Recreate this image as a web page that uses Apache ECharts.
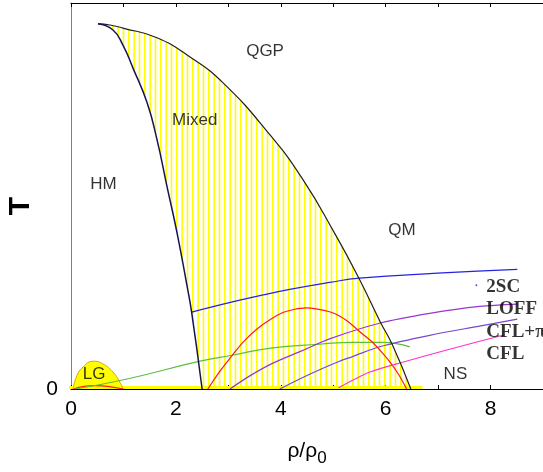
<!DOCTYPE html>
<html><head><meta charset="utf-8">
<script src="https://cdn.jsdelivr.net/npm/echarts@6/dist/echarts.min.js"></script>
<style>html,body{margin:0;padding:0;background:#fff}#c{width:543px;height:472px}</style>
</head><body><div id="c"></div>
<script>
// ---- data (x = rho/rho0, y = T in arbitrary units 0..100) ----
const xTickLabels = ['0', '2', '4', '6', '8'];
const yTickLabels = ['0'];
const qgpBoundary = [[0.514,94.6],[0.743,94.3],[0.99,93.5],[1.64,91.0],[2.27,86.0],[2.90,79.3],[3.79,65.9],[4.42,54.3],[5.05,39.8],[5.49,28.7],[5.90,17.3],[6.13,11.4],[6.48,0]];
const hmBoundary = [[0.514,94.6],[0.80,93.0],[0.99,89.1],[1.18,83.2],[1.45,74.2],[1.64,64.6],[1.83,52.5],[2.02,40.6],[2.21,26.9],[2.30,19.9],[2.50,0]];
const baseline = [[-0.17,0.4],[6.7,0.4]];
const lgBump = [[0.04,0],[0.11,3.4],[0.23,5.7],[0.42,7.2],[0.61,6.5],[0.80,4.4],[0.93,1.8],[0.99,0]];
const lgRed = [[0.05,0],[0.25,0.7],[0.45,0.9],[0.7,0.7],[1.0,0]];
const greenLine = [[0.08,0],[1.07,2.6],[2.46,7.2],[3.09,8.8],[3.81,10.6],[4.74,11.6],[5.37,12.1],[5.94,12.1],[6.46,10.9]];
const blueLine = [[2.30,19.9],[2.90,22.0],[3.54,24.0],[4.17,25.8],[4.93,27.6],[5.50,28.7],[6.99,30.0],[8.51,31.0]];
const redLine = [[2.61,0],[2.85,4.8],[3.09,9.0],[3.30,12.4],[3.54,15.5],[3.80,18.0],[4.04,19.8],[4.25,20.6],[4.48,21.0],[4.70,20.7],[4.93,20.0],[5.12,18.9],[5.30,17.3],[5.45,15.5],[5.60,13.8],[5.75,12.1],[5.92,9.6],[6.08,7.0],[6.25,3.7],[6.40,0]];
const loffLine = [[3.03,0],[3.41,3.4],[3.85,6.7],[4.42,10.0],[4.93,13.0],[5.90,17.1],[6.84,19.6],[7.79,21.4],[8.51,22.0]];
const cflPiLine = [[3.98,0],[4.36,2.6],[4.74,5.0],[5.12,7.2],[5.37,8.4],[5.90,11.0],[6.84,13.9],[7.79,16.3],[8.51,18.1]];
const cflLine = [[5.10,0.3],[5.70,4.4],[6.34,7.0],[7.22,10.3],[8.25,14.0]];
const blueDot = [[7.73,26.9]];
const regionLabels = [[3.70,87.6,'QGP'],[2.36,69.5,'Mixed'],[0.62,53.1,'HM'],[6.31,41.1,'QM'],[7.33,3.9,'NS'],[0.44,3.9,'LG']];
const phaseLabels = [[7.92,26.4,'2SC'],[7.92,20.7,'LOFF'],[7.92,14.7,'CFL+\u03c0'],[7.92,9.0,'CFL']];

// vertical hatch pattern (period ~5.3 px)
const pat = document.createElement('canvas');
pat.width = 16; pat.height = 4;
const pctx = pat.getContext('2d');
pctx.fillStyle = '#ffff00';
[0, 5.33, 10.67].forEach(function(x){ pctx.fillRect(x, 0, 1.6, 4); });

const chart = echarts.init(document.getElementById('c'));
const SM = 0.5;
function line(data, color, width, extra) {
  return Object.assign({type:'line', data:data, symbol:'none', smooth:SM, lineStyle:{color:color, width:width}, z:4, silent:true}, extra||{});
}
chart.setOption({
  animation:false,
  grid:{left:71, right:0, top:3, bottom:82},
  xAxis:[{
    type:'value', min:0, max:9, interval:1, position:'bottom',
    axisLine:{show:true, lineStyle:{color:'#000', width:1}},
    axisTick:{show:true, inside:true, length:4, lineStyle:{color:'#000'}},
    axisLabel:{margin:10, fontFamily:'Liberation Sans', fontSize:21, color:'#000', showMaxLabel:false,
      formatter:function(v){ return xTickLabels.indexOf(String(v))>=0 ? String(v) : ''; }},
    splitLine:{show:false},
    name:'\u03c1/\u03c1{s|0}', nameLocation:'middle', nameGap:47,
    nameTextStyle:{fontFamily:'Liberation Sans', fontSize:21, color:'#000',
      rich:{s:{fontFamily:'Liberation Sans', fontSize:17, color:'#000', padding:[14,0,0,0]}}}
  },{
    type:'value', min:0, max:9, interval:1, position:'top',
    axisLine:{show:true, lineStyle:{color:'#000', width:1}},
    axisTick:{show:true, inside:true, length:4, lineStyle:{color:'#000'}},
    axisLabel:{show:false}, splitLine:{show:false}
  }],
  yAxis:{
    type:'value', min:0, max:100, interval:100,
    axisLine:{show:true, lineStyle:{color:'#808080', width:1}},
    axisTick:{show:false},
    axisLabel:{margin:13, fontFamily:'Liberation Sans', fontSize:21, color:'#000',
      formatter:function(v){ return yTickLabels.indexOf(String(v))>=0 ? String(v) : ''; }},
    splitLine:{show:false}
  },
  graphic:[{type:'text', x:21, y:206, rotation:Math.PI/2,
    style:{text:'T', font:'bold 30px "Liberation Sans"', fill:'#000', align:'center', verticalAlign:'middle'}}],
  series:[
    // hatched mixed phase: area under QGP boundary, masked by white area under HM boundary
    line(qgpBoundary, '#202020', 0, {areaStyle:{color:{image:pat, repeat:'repeat'}, opacity:1}, z:1}),
    line(hmBoundary, '#141455', 0, {areaStyle:{color:'#ffffff', opacity:1}, z:1}),
    line(baseline, '#ffff00', 3, {smooth:false, clip:false, z:2}),
    line(lgBump, '#e8a000', 1, {areaStyle:{color:'#ffff00', opacity:1}, z:2}),
    line(lgRed, '#ff2020', 1.2),
    line(greenLine, '#5cbf3c', 1.2),
    line(blueLine, '#2424e0', 1.2),
    line(redLine, '#ff1a1a', 1.2, {smooth:0.3}),
    line(loffLine, '#9b35d0', 1.2, {smooth:0.3}),
    line(cflPiLine, '#7a45d0', 1.2, {smooth:0.3}),
    line(cflLine, '#ff33c8', 1.2, {smooth:0.3}),
    line(qgpBoundary, '#202020', 1.2, {z:5}),
    line(hmBoundary, '#141455', 1.5, {z:5}),
    {type:'scatter', data:blueDot, symbolSize:2, itemStyle:{color:'#2424e0'}, z:5, silent:true},
    {type:'scatter', data:regionLabels, symbolSize:0, z:6, silent:true,
      label:{show:true, position:'inside', fontFamily:'Liberation Sans', fontSize:17, color:'#000',
        formatter:function(p){ return p.data[2]; }}},
    {type:'scatter', data:phaseLabels, symbolSize:0, z:6, silent:true,
      label:{show:true, position:'right', distance:0, fontFamily:'Liberation Serif', fontWeight:'bold', fontSize:19, color:'#000',
        formatter:function(p){ return p.data[2]; }}}
  ]
});
</script></body></html>
